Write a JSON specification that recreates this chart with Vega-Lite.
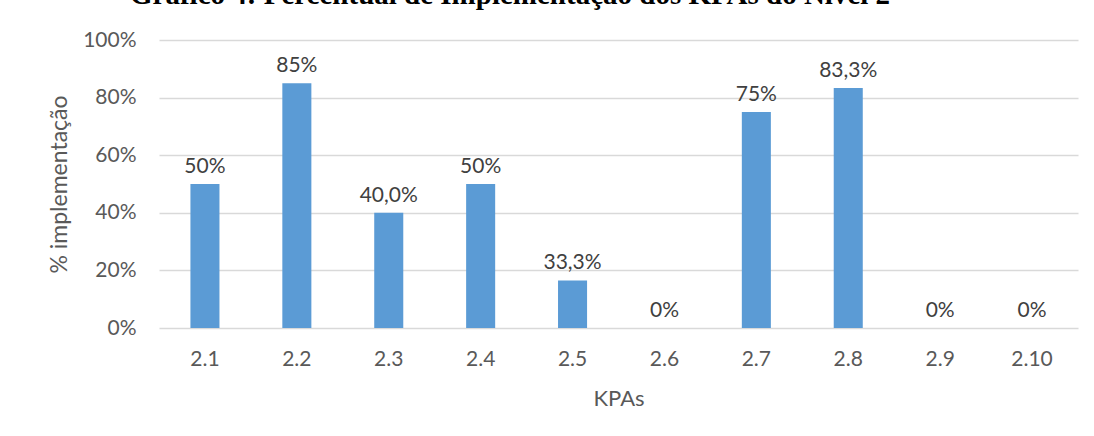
{
  "$schema": "https://vega.github.io/schema/vega-lite/v6.json",
  "width": 919,
  "height": 288,
  "autosize": {"type": "none"},
  "padding": {"left": 159, "top": 40, "right": 16, "bottom": 108},
  "background": "white",
  "title": {
    "text": "Gráfico 4: Percentual de Implementação dos KPAs do Nível 2",
    "font": "Liberation Serif",
    "fontSize": 29,
    "fontWeight": "bold",
    "color": "#000000",
    "anchor": "start",
    "frame": "group",
    "dx": -29,
    "dy": 24,
    "offset": 20,
    "baseline": "alphabetic"
  },
  "data": {
    "values": [
      {"kpa": "2.1", "valor": 50, "rotulo": "50%"},
      {"kpa": "2.2", "valor": 85, "rotulo": "85%"},
      {"kpa": "2.3", "valor": 40, "rotulo": "40,0%"},
      {"kpa": "2.4", "valor": 50, "rotulo": "50%"},
      {"kpa": "2.5", "valor": 16.5, "rotulo": "33,3%"},
      {"kpa": "2.6", "valor": 0, "rotulo": "0%"},
      {"kpa": "2.7", "valor": 75, "rotulo": "75%"},
      {"kpa": "2.8", "valor": 83.3, "rotulo": "83,3%"},
      {"kpa": "2.9", "valor": 0, "rotulo": "0%"},
      {"kpa": "2.10", "valor": 0, "rotulo": "0%"}
    ]
  },
  "config": {
    "view": {"stroke": null},
    "font": "Lato"
  },
  "encoding": {
    "x": {
      "field": "kpa",
      "type": "nominal",
      "sort": null,
      "scale": {"paddingInner": 0.684, "paddingOuter": 0.342},
      "axis": {
        "title": "KPAs",
        "titleFont": "Lato",
        "titleFontSize": 22,
        "titleFontWeight": "normal",
        "titleColor": "#595959",
        "titlePadding": 19,
        "labelAngle": 0,
        "labelFont": "Lato",
        "labelFontSize": 21,
        "labelColor": "#595959",
        "labelPadding": 20,
        "ticks": false,
        "domain": false
      }
    },
    "y": {
      "field": "valor",
      "type": "quantitative",
      "scale": {"domain": [0, 100]},
      "axis": {
        "title": "% implementação",
        "titleFont": "Lato",
        "titleFontSize": 23,
        "titleFontWeight": "normal",
        "titleColor": "#595959",
        "titlePadding": 11,
        "values": [0, 20, 40, 60, 80, 100],
        "labelExpr": "datum.value + '%'",
        "labelFont": "Lato",
        "labelFontSize": 21,
        "labelColor": "#595959",
        "labelPadding": 23,
        "ticks": false,
        "domain": false,
        "gridColor": "#d9d9d9",
        "gridWidth": 1.3
      }
    }
  },
  "layer": [
    {"mark": {"type": "bar", "color": "#5b9bd5"}},
    {
      "mark": {"type": "text", "baseline": "bottom", "dy": -7, "fontSize": 21, "font": "Lato", "color": "#404040"},
      "encoding": {"text": {"field": "rotulo"}}
    }
  ]
}
